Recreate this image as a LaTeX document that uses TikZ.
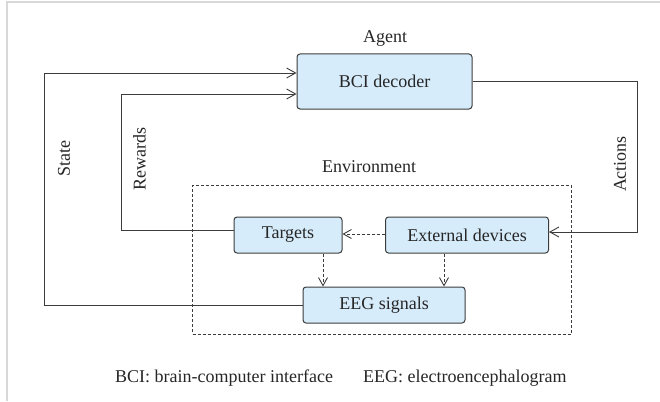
\documentclass[tikz,border=0pt]{standalone}
\usepackage{fontspec}
\setmainfont{Liberation Serif}
\usetikzlibrary{arrows.meta}
\definecolor{boxfill}{RGB}{214,236,250}
\definecolor{linec}{RGB}{60,60,60}
\definecolor{framec}{RGB}{216,216,216}
\begin{document}
\begin{tikzpicture}[x=1pt,y=-1pt,
  every node/.style={font=\fontsize{18}{21}\selectfont, text=black!85},
  blk/.style={draw=linec, line width=1pt, fill=boxfill, rounded corners=3pt, inner sep=0pt},
  conn/.style={draw=linec, line width=0.9pt},
  arr/.style={conn, -{Straight Barb[length=9pt,width=10pt,line width=0.9pt]}},
  darr/.style={conn, dash pattern=on 3pt off 2pt, -{Straight Barb[length=8pt,width=9pt,line width=0.9pt]}},
  lbl/.style={inner sep=0pt}]
\useasboundingbox (0,0) rectangle (660,401);
\draw[framec, line width=2pt] (7,401) -- (7,2) -- (660,2);
% environment frame
\node[draw=linec, line width=0.8pt, dash pattern=on 3pt off 2pt, minimum width=378.5pt, minimum height=149pt, inner sep=0pt] (env) at (381.75,259.5) {};
% blocks
\node[blk, minimum width=175pt, minimum height=55pt] (dec) at (384.5,81.5) {BCI decoder};
\node[blk, minimum width=108pt, minimum height=36pt] (tgt) at (288,235) {Targets};
\node[blk, minimum width=163pt, minimum height=36pt] (ext) at (467,235) {External devices};
\node[blk, minimum width=162pt, minimum height=36pt] (eeg) at (384,305) {EEG signals};
% titles
\node[lbl] (agent) at (385,39) {Agent};
\node[lbl] (envl) at (369,167) {Environment};
% connectors
\draw[arr] (eeg.west) -- (44,305) -- (44,73) -- (dec.west |- 0,73);
\draw[arr] (tgt.west |- 0,230) -- (121,230) -- (121,94) -- (dec.west |- 0,94);
\draw[arr] (dec.east) -- (637.5,81.5) -- (637.5,232) -- (ext.east |- 0,232);
\draw[darr] (ext.west |- 0,234) -- (tgt.east |- 0,234);
\draw[darr] (tgt.south -| 323,0) -- (eeg.north -| 323,0);
\draw[darr] (ext.south -| 444,0) -- (eeg.north -| 444,0);
% connector labels
\node[lbl, rotate=90] (statel) at (64,159) {State};
\node[lbl, rotate=90] (rewl) at (139.5,159) {Rewards};
\node[lbl, rotate=90] (actl) at (620,164) {Actions};
% caption
\node[lbl, anchor=west] (cap1) at (115,378) {BCI: brain-computer interface};
\node[lbl, anchor=west] (cap2) at (363,378) {EEG: electroencephalogram};
\end{tikzpicture}
\end{document}
